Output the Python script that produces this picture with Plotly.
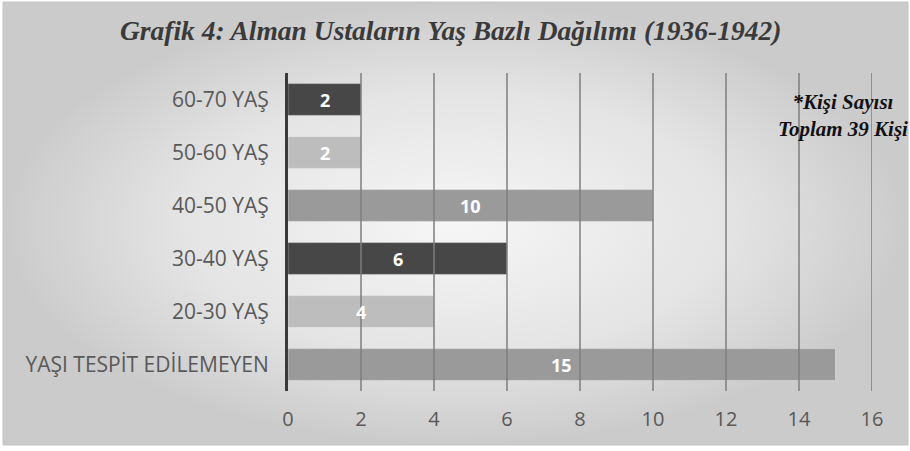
import plotly.graph_objects as go

# Age groups (top to bottom) and head counts
age_groups = ["60-70 YAŞ", "50-60 YAŞ", "40-50 YAŞ", "30-40 YAŞ", "20-30 YAŞ", "YAŞI TESPİT EDİLEMEYEN"]
counts = [2, 2, 10, 6, 4, 15]
bar_colors = ["#474747", "#bdbdbd", "#9a9a9a", "#474747", "#bdbdbd", "#9a9a9a"]
x_ticks = [0, 2, 4, 6, 8, 10, 12, 14, 16]

W, H = 910, 451
sans = "Open Sans, DejaVu Sans, sans-serif"
serif = "Liberation Serif, Times New Roman, serif"

fig = go.Figure()

# Framed panel with a soft radial grey gradient (drawn on a pixel-space helper axis)
fig.add_trace(go.Scatter(
    x=[3, 908, 908, 3, 3], y=[2, 2, 445, 445, 2],
    mode="lines", fill="toself",
    line=dict(color="#c4c4c4", width=1),
    fillgradient=dict(type="radial", colorscale=[[0, "#f6f6f6"], [0.6, "#e4e4e4"], [1, "#cbcbcb"]]),
    hoverinfo="skip", showlegend=False, xaxis="x", yaxis="y",
))

# Horizontal bars
fig.add_trace(go.Bar(
    y=age_groups, x=counts, orientation="h",
    marker=dict(color=bar_colors, line=dict(color="rgba(255,255,255,0.35)", width=1)),
    width=0.6,
    xaxis="x2", yaxis="y2", showlegend=False, hoverinfo="skip",
))

x_dom = [288 / W, 872 / W]
y_dom = [(H - 391) / H, (H - 73) / H]

# Vertical gridlines drawn over the bars
for t in x_ticks[1:]:
    fig.add_shape(type="line", xref="x2", yref="y2 domain", x0=t, x1=t, y0=0, y1=1,
                  line=dict(color="rgba(125,125,125,0.75)", width=2), layer="above")

# Value labels centred in each bar
value_labels = [
    dict(text=f"<b>{v}</b>", x=v / 2, y=g, xref="x2", yref="y2", showarrow=False,
         xanchor="center", yanchor="middle",
         font=dict(family=sans, size=18, color="white"))
    for g, v in zip(age_groups, counts)
]

fig.update_layout(
    width=W, height=H,
    margin=dict(l=0, r=0, t=0, b=0, autoexpand=False),
    paper_bgcolor="white", plot_bgcolor="rgba(0,0,0,0)",
    xaxis=dict(domain=[0, 1], range=[0, W], visible=False, fixedrange=True, automargin=False),
    yaxis=dict(domain=[0, 1], range=[H, 0], visible=False, fixedrange=True, automargin=False),
    xaxis2=dict(
        domain=x_dom, anchor="y2", range=[0, 16], tickvals=x_ticks,
        showgrid=False, zeroline=False, showline=False, automargin=False,
        tickfont=dict(family=sans, size=20, color="#595959"),
        ticks="", ticklabelstandoff=14,
    ),
    yaxis2=dict(
        domain=y_dom, anchor="x2", categoryorder="array", categoryarray=age_groups,
        range=[5.5, -0.5], showgrid=False, zeroline=False, automargin=False,
        showline=True, linecolor="#3a3a3a", linewidth=3,
        tickfont=dict(family=sans, size=21, color="#595959"),
        ticks="", ticklabelstandoff=12,
    ),
    annotations=value_labels + [
        dict(text="<b><i>Grafik 4: Alman Ustaların Yaş Bazlı Dağılımı (1936-1942)</i></b>",
             xref="paper", yref="paper", x=450 / W, y=1 - 30 / H,
             xanchor="center", yanchor="middle", showarrow=False,
             font=dict(family=serif, size=27.5, color="#3a3a3a")),
        dict(text="<b><i>*Kişi Sayısı<br>Toplam 39 Kişi</i></b>",
             xref="paper", yref="paper", x=843 / W, y=1 - 115 / H,
             xanchor="center", yanchor="middle", showarrow=False, align="center",
             font=dict(family=serif, size=21, color="#111111")),
    ],
)

fig.write_html("out.html")
